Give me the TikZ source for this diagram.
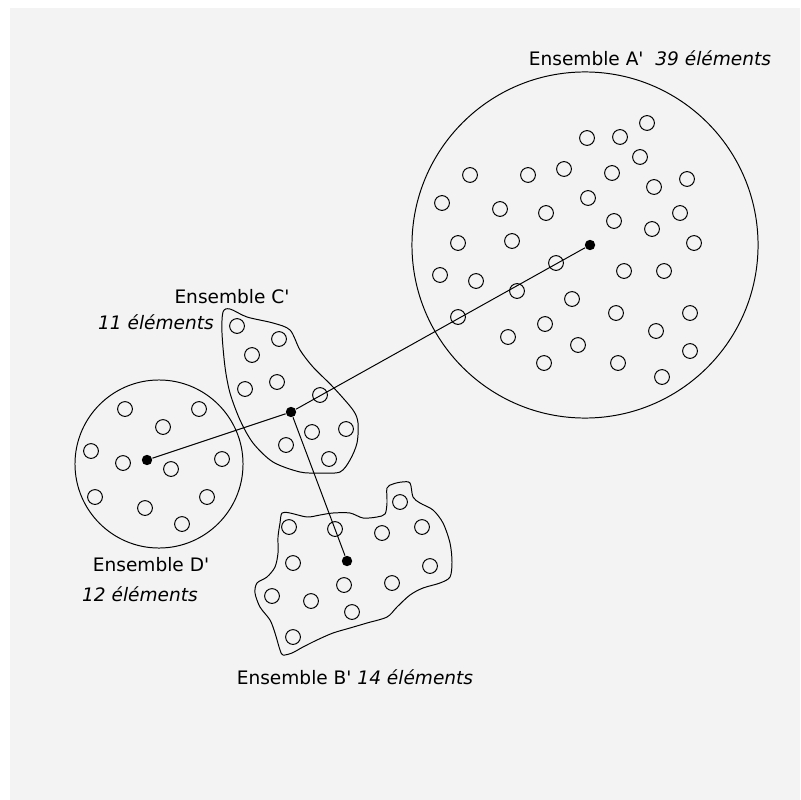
\documentclass[tikz,border=0pt]{standalone}
\usepackage{fontspec}
\setmainfont{DejaVu Sans}[Ligatures=TeXOff]
\usetikzlibrary{positioning}

\definecolor{bggray}{RGB}{243,243,243}

\tikzset{
  elem/.style={circle,draw,inner sep=0pt,minimum size=0.37cm,line width=0.7pt},
  centre/.style={circle,fill=black,inner sep=0pt,minimum size=0.26cm},
  ens/.style={circle,draw,inner sep=0pt,line width=0.7pt},
  lbl/.style={inner sep=0pt,font=\fontsize{13.2}{15}\selectfont},
}

\begin{document}
\begin{tikzpicture}[x=0.025cm,y=-0.025cm,line width=0.7pt]
    % background
    \fill[white] (0,0) rectangle (800,800);
    \fill[bggray] (10,8) rectangle (800,800);
    \useasboundingbox (0,0) rectangle (800,800);

    % sets
    \node (ensA) at (585,245) [ens,minimum size=8.65cm] {};
    \node (ensD) at (159,464) [ens,minimum size=4.2cm] {};
    \draw plot[smooth cycle,tension=0.5] coordinates {(223,312) (230,309) (247,317) (273,323) (290,330) (300,350) (313,367) (333,387) (353,410) (358,423) (357,443) (350,460) (340,472) (320,473) (300,472) (273,462) (253,443) (240,420) (230,393) (225,367) (222,333)}; % C'
    \draw plot[smooth cycle,tension=0.5] coordinates {(282,513) (290,513) (307,517) (320,515) (333,513) (350,513) (363,518) (377,517) (385,514) (387,503) (387,488) (393,484) (402,482) (410,483) (413,497) (420,503) (433,510) (443,523) (450,543) (452,562) (450,577) (440,583) (423,588) (410,595) (397,607) (387,617) (367,623) (350,628) (333,633) (317,640) (303,647) (292,653) (283,655) (280,650) (275,633) (270,620) (260,607) (255,593) (257,583) (267,577) (275,567) (278,553) (278,537) (280,523)}; % B'

    % elements
    \foreach \x/\y in {587/138, 620/137, 647/123, 640/157, 470/175, 528/175, 564/169, 612/173, 654/187, 687/179,
      442/203, 500/209, 546/213, 588/198, 614/221, 652/229, 680/213, 458/243, 512/241, 694/243,
      440/275, 476/281, 556/263, 624/271, 664/271, 517/291, 458/317, 572/299, 616/313, 690/313,
      545/324, 508/337, 578/345, 656/331, 544/363, 618/363, 690/351, 662/377}
      \node[elem] at (\x,\y) {}; % A'
    \foreach \x/\y in {125/409, 199/409, 163/427, 91/451, 123/463, 171/469, 222/459, 95/497, 145/508, 207/497, 182/524}
      \node[elem] at (\x,\y) {}; % D'
    \foreach \x/\y in {237/326, 279/339, 252/355, 277/382, 245/389, 320/395, 312/432, 346/429, 286/445, 329/459}
      \node[elem] at (\x,\y) {}; % C'
    \foreach \x/\y in {289/527, 335/529, 382/533, 400/502, 422/527, 293/563, 430/566, 344/585, 392/583, 272/596, 311/601, 352/612, 293/637}
      \node[elem] at (\x,\y) {}; % B'

    % centres
    \node (cA) at (590,245) [centre] {};
    \node (cC) at (291,412) [centre] {};
    \node (cD) at (147,460) [centre] {};
    \node (cB) at (347,561) [centre] {};

    % labels
    \node at (650,58) [lbl] {Ensemble A'\ \ \textit{39 éléments}};
    \node at (232,297) [lbl] {Ensemble C'};
    \node at (156,322) [lbl] {\textit{11 éléments}};
    \node at (151,565) [lbl] {Ensemble D'};
    \node at (140,594) [lbl] {\textit{12 éléments}};
    \node at (355,677) [lbl] {Ensemble B' \textit{14 éléments}};

    % paths
    \draw (cA) -- (cC); % A' -> C'
    \draw (cD) -- (cC); % D' -> C'
    \draw (cC) -- (cB); % C' -> B'

\end{tikzpicture}
\end{document}
